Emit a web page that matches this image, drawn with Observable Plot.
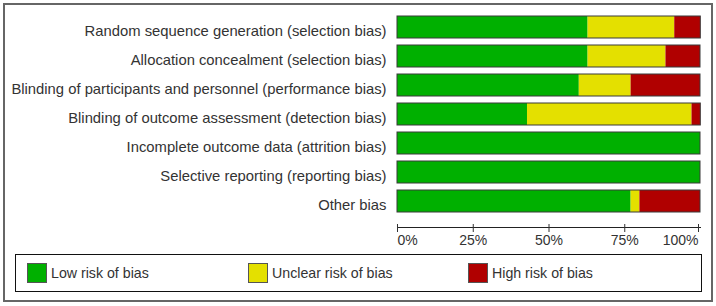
<!DOCTYPE html>
<html>
<head>
<meta charset="utf-8">
<script src="https://cdn.jsdelivr.net/npm/d3@7"></script>
<script src="https://cdn.jsdelivr.net/npm/@observablehq/plot@0.6"></script>
<style>
  html, body { margin: 0; padding: 0; background: #fff; }
  #page { position: relative; width: 716px; height: 306px; font-family: "Liberation Sans", Arial, sans-serif; color: #333; }
  #outer { position: absolute; left: 3px; top: 3px; width: 710px; height: 299px; box-sizing: border-box; border: 2px solid #666; }
  #chart { position: absolute; left: 0; top: 0; }
  #legend { position: absolute; left: 15px; top: 254px; width: 687px; height: 38px; box-sizing: border-box; border: 1px solid #111; }
  .item { position: absolute; top: 8px; display: flex; align-items: center; font-size: 14.2px; }
  .sw { width: 18px; height: 18px; border: 1px solid #555; margin-right: 4px; }
</style>
</head>
<body>
<div id="page">
  <div id="outer"></div>
  <div id="chart"></div>
  <div id="legend"></div>
</div>
<script>
// Risk-of-bias domains (top to bottom) and the share of studies per judgement, in percent
const domains = [
  "Random sequence generation (selection bias)",
  "Allocation concealment (selection bias)",
  "Blinding of participants and personnel (performance bias)",
  "Blinding of outcome assessment (detection bias)",
  "Incomplete outcome data (attrition bias)",
  "Selective reporting (reporting bias)",
  "Other bias"
];
const lowRisk     = [62.9, 62.9, 60.0, 42.9, 100, 100, 77.1];
const unclearRisk = [28.6, 25.7, 17.1, 54.3,   0,   0,  2.9];
const highRisk    = [ 8.6, 11.4, 22.9,  2.9,   0,   0, 20.0];

const riskLabels = ["Low risk of bias", "Unclear risk of bias", "High risk of bias"];
const riskColors = ["#00b000", "#e4e000", "#b00000"];
const tickValues = [0, 25, 50, 75, 100];

const rows = [];
domains.forEach((d, i) => {
  rows.push({domain: d, risk: riskLabels[0], value: lowRisk[i]});
  rows.push({domain: d, risk: riskLabels[1], value: unclearRisk[i]});
  rows.push({domain: d, risk: riskLabels[2], value: highRisk[i]});
});

const pct = d => d + "%";
const tickOpts = {tickSize: 8, dy: -3, tickPadding: 3, tickFormat: pct, fontSize: 14, label: null};

const chart = Plot.plot({
  width: 716,
  height: 250,
  marginLeft: 397,
  marginRight: 16,
  marginTop: 0,
  marginBottom: 23,
  style: {fontFamily: '"Liberation Sans", Arial, sans-serif', fontSize: "14px", color: "#333", background: "transparent"},
  x: {domain: [0, 100], label: null},
  y: {domain: domains, range: [8.2, 220.2], padding: 0.233, label: null},
  color: {domain: riskLabels, range: riskColors},
  marks: [
    Plot.barX(rows, Plot.stackX({x: "value", y: "domain", fill: "risk", order: null})),
    Plot.barX(domains, {
      x: (d, i) => lowRisk[i] + unclearRisk[i] + highRisk[i],
      y: d => d,
      fill: "none",
      stroke: "#3a3a3a",
      strokeWidth: 1
    }),
    Plot.axisY({tickSize: 0, tickPadding: 11, fontSize: 14.8, dy: 4, label: null}),
    Plot.frame({anchor: "bottom", stroke: "#222"}),
    Plot.axisX(tickValues.slice(0, 1), {...tickOpts, textAnchor: "start"}),
    Plot.axisX(tickValues.slice(1, 4), tickOpts),
    Plot.axisX(tickValues.slice(4), {...tickOpts, textAnchor: "end", dx: -2})
  ]
});
document.getElementById("chart").appendChild(chart);

// Legend row
const legend = document.getElementById("legend");
const legendLeft = [11, 232, 452];
riskLabels.forEach((lab, i) => {
  const item = document.createElement("div");
  item.className = "item";
  item.style.left = legendLeft[i] + "px";
  const sw = document.createElement("div");
  sw.className = "sw";
  sw.style.background = riskColors[i];
  const t = document.createElement("span");
  t.textContent = lab;
  item.appendChild(sw);
  item.appendChild(t);
  legend.appendChild(item);
});
</script>
</body>
</html>
